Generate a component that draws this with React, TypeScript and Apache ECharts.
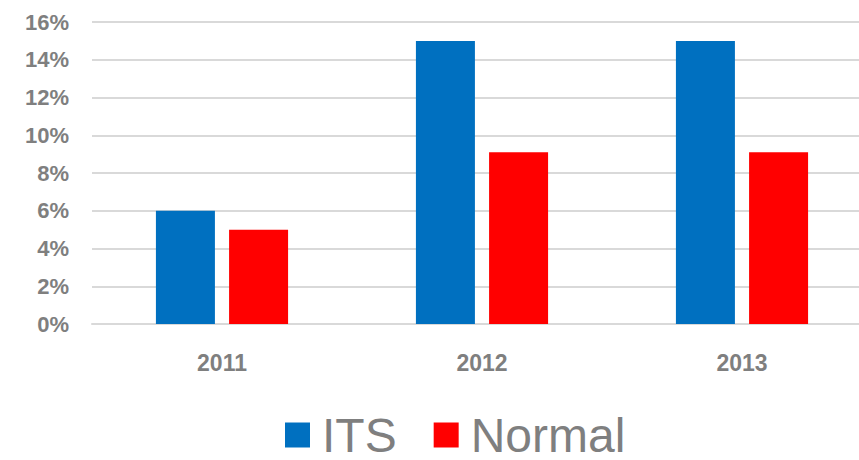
import React, { useEffect, useRef } from "react";
import * as echarts from "echarts";

const categories = ["2011", "2012", "2013"];
const itsValues = [6, 15, 15];
const normalValues = [5, 9.1, 9.1];
const seriesNames = ["ITS", "Normal"];

export default function App() {
  const ref = useRef<HTMLDivElement>(null);
  useEffect(() => {
    if (!ref.current) return;
    const chart = echarts.init(ref.current, null, { renderer: "svg" });
    chart.setOption({
      animation: false,
      backgroundColor: "#ffffff",
      grid: { left: 92, width: 780, top: 22, height: 302, outerBoundsMode: "none", containLabel: false },
      legend: {
        data: seriesNames,
        top: 406,
        left: 280,
        icon: "rect",
        itemWidth: 25,
        itemHeight: 25,
        itemGap: 37,
        textStyle: {
          fontSize: 48,
          lineHeight: 48,
          padding: [0, 0, 0, 7],
          color: "#7f7f7f",
          fontFamily: "Liberation Sans, Arial, sans-serif",
        },
      },
      xAxis: {
        type: "category",
        data: categories,
        axisLine: { show: true, lineStyle: { color: "#d9d9d9", width: 2 } },
        axisTick: { show: false },
        axisLabel: {
          margin: 27,
          fontSize: 23,
          fontWeight: "bold",
          color: "#7f7f7f",
          fontFamily: "Liberation Sans, Arial, sans-serif",
        },
      },
      yAxis: {
        type: "value",
        min: 0,
        max: 16,
        interval: 2,
        axisLine: { show: false },
        axisTick: { show: false },
        splitLine: { lineStyle: { color: "#d9d9d9", width: 2 } },
        axisLabel: {
          margin: 23,
          fontSize: 22,
          fontWeight: "bold",
          color: "#7f7f7f",
          fontFamily: "Liberation Sans, Arial, sans-serif",
          formatter: "{value}%",
        },
      },
      series: [
        {
          name: seriesNames[0],
          type: "bar",
          data: itsValues,
          itemStyle: { color: "#0070c0" },
          barWidth: 59,
          barGap: "24%",
        },
        {
          name: seriesNames[1],
          type: "bar",
          data: normalValues,
          itemStyle: { color: "#ff0000" },
          barWidth: 59,
          barGap: "24%",
        },
      ],
    });
    return () => chart.dispose();
  }, []);
  return <div ref={ref} style={{ width: 859, height: 460, position: "absolute", left: 0, top: 0 }} />;
}
